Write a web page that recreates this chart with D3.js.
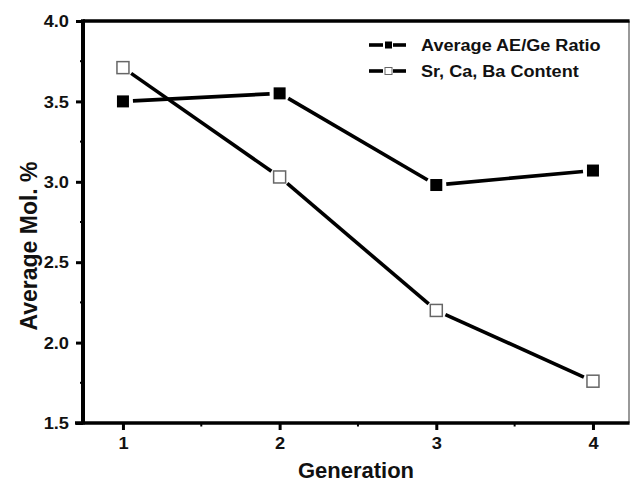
<!DOCTYPE html>
<html>
<head>
<meta charset="utf-8">
<script src="https://cdn.jsdelivr.net/npm/d3@7"></script>
<style>
  html, body { margin: 0; padding: 0; background: #fff; }
  svg { display: block; }
  text { font-family: "Liberation Sans", Arial, sans-serif; font-weight: bold; fill: #111; }
</style>
</head>
<body>
<svg id="chart" width="631" height="491"></svg>
<script>
// Generations on the x axis
const generations = [1, 2, 3, 4];
// Average AE/Ge ratio per generation (filled squares)
const aeGeRatio = [3.50, 3.55, 2.98, 3.07];
// Sr, Ca, Ba content per generation (open squares)
const srCaBaContent = [3.71, 3.03, 2.20, 1.76];
// Tick values
const yTicks = [1.5, 2.0, 2.5, 3.0, 3.5, 4.0];
const yMinorTicks = [1.75, 2.25, 2.75, 3.25, 3.75];
const xTicks = [1, 2, 3, 4];
const xMinorTicks = [1.5, 2.5, 3.5];
const seriesNames = ["Average AE/Ge Ratio", "Sr, Ca, Ba Content"];

const svg = d3.select("#chart");
const plotLeft = 83, plotRight = 629, plotTop = 21, plotBottom = 423;

const x = d3.scaleLinear().domain([0.745, 4.23]).range([plotLeft, plotRight]);
const y = d3.scaleLinear().domain([1.5, 4.0]).range([plotBottom, plotTop]);

// Widen glyphs a little: the lettering is set broad
function widen(sel, factor) {
  sel.each(function () {
    const len = this.getComputedTextLength();
    d3.select(this).attr("textLength", len * factor).attr("lengthAdjust", "spacingAndGlyphs");
  });
}

// Frame: thin right border, heavy top line
svg.append("line").attr("x1", plotRight).attr("x2", plotRight).attr("y1", plotTop).attr("y2", plotBottom)
  .attr("stroke", "#555").attr("stroke-width", 1.2);
svg.append("line").attr("x1", plotLeft).attr("x2", plotRight + 0.6).attr("y1", plotTop).attr("y2", plotTop)
  .attr("stroke", "#000").attr("stroke-width", 3.5);

// Y axis
const yAxis = svg.append("g").attr("transform", `translate(${plotLeft},0)`)
  .call(d3.axisLeft(y).tickValues(yTicks).tickFormat(d3.format(".1f")).tickSize(7).tickPadding(7));
yAxis.select(".domain").attr("stroke", "#000").attr("stroke-width", 4).attr("d", `M0,${plotTop - 1.7}V${plotBottom + 1.5}`);
yAxis.selectAll(".tick line").attr("stroke", "#000").attr("stroke-width", 3);
yAxis.selectAll(".tick text").style("font-size", "16px").attr("font-family", null).attr("dy", "0.36em")
  .call(widen, 1.14);
svg.append("g").selectAll("line").data(yMinorTicks).join("line")
  .attr("x1", plotLeft - 3).attr("x2", plotLeft).attr("y1", d => y(d)).attr("y2", d => y(d))
  .attr("stroke", "#000").attr("stroke-width", 2);

// X axis
const xAxis = svg.append("g").attr("transform", `translate(0,${plotBottom})`)
  .call(d3.axisBottom(x).tickValues(xTicks).tickFormat(d3.format("d")).tickSize(7).tickPadding(8));
xAxis.select(".domain").attr("stroke", "#000").attr("stroke-width", 3.5).attr("d", `M${plotLeft - 8},0H${plotRight + 0.6}`);
xAxis.selectAll(".tick line").attr("stroke", "#000").attr("stroke-width", 3);
xAxis.selectAll(".tick text").style("font-size", "16px").attr("font-family", null)
  .call(widen, 1.14);
svg.append("g").selectAll("line").data(xMinorTicks).join("line")
  .attr("x1", d => x(d)).attr("x2", d => x(d)).attr("y1", plotBottom).attr("y2", plotBottom + 3.5)
  .attr("stroke", "#000").attr("stroke-width", 2);

// Axis titles
svg.append("text").attr("x", (plotLeft + plotRight) / 2).attr("y", 478).attr("text-anchor", "middle")
  .style("font-size", "22px").text("Generation");
svg.append("text").attr("transform", "translate(37,246) rotate(-90)").attr("text-anchor", "middle")
  .style("font-size", "23px").text("Average Mol. %");

// Connecting segments stop short of each marker
const gap = 10;
function drawSeries(values, filled) {
  const pts = generations.map((g, i) => [x(g), y(values[i])]);
  const line = d3.line();
  const g = svg.append("g");
  for (let i = 0; i < pts.length - 1; i++) {
    const [x0, y0] = pts[i], [x1, y1] = pts[i + 1];
    const len = Math.hypot(x1 - x0, y1 - y0);
    const ux = (x1 - x0) / len, uy = (y1 - y0) / len;
    g.append("path")
      .attr("d", line([[x0 + ux * gap, y0 + uy * gap], [x1 - ux * gap, y1 - uy * gap]]))
      .attr("stroke", "#000").attr("stroke-width", 3.6).attr("fill", "none");
  }
  const s = 12;
  g.selectAll("rect").data(pts).join("rect")
    .attr("x", d => d[0] - s / 2).attr("y", d => d[1] - s / 2)
    .attr("width", s).attr("height", s)
    .attr("fill", filled ? "#000" : "#fff")
    .attr("stroke", filled ? "#000" : "#666")
    .attr("stroke-width", filled ? 0 : 1.5);
}
drawSeries(aeGeRatio, true);
drawSeries(srCaBaContent, false);

// Legend
const legend = svg.append("g").attr("transform", "translate(369,0)");
[45, 71].forEach((ly, i) => {
  const row = legend.append("g").attr("transform", `translate(0,${ly})`);
  row.append("line").attr("x1", 0).attr("x2", 14).attr("y1", 0).attr("y2", 0).attr("stroke", "#000").attr("stroke-width", 3.6);
  row.append("line").attr("x1", 24).attr("x2", 37).attr("y1", 0).attr("y2", 0).attr("stroke", "#000").attr("stroke-width", 3.6);
  row.append("rect").attr("x", 16).attr("y", -3.5).attr("width", 7).attr("height", 7)
    .attr("fill", i === 0 ? "#000" : "#fff").attr("stroke", i === 0 ? "#000" : "#666").attr("stroke-width", i === 0 ? 0 : 1);
  row.append("text").attr("x", 52).attr("y", 0).attr("dy", "0.36em").style("font-size", "16px").text(seriesNames[i])
    .call(widen, 1.13);
});
</script>
</body>
</html>
